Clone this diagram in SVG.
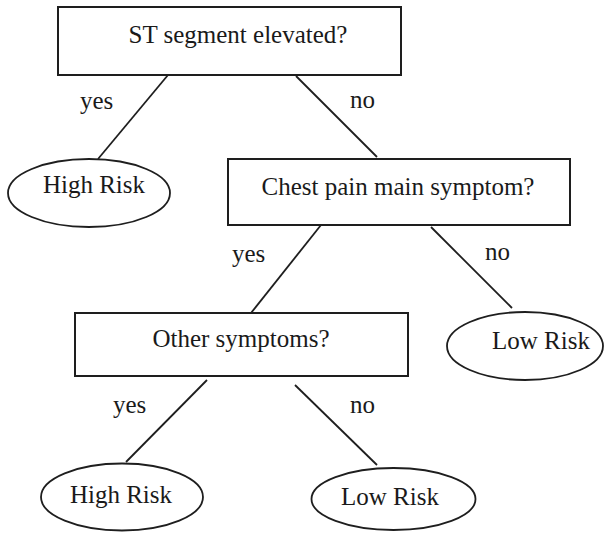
<svg xmlns="http://www.w3.org/2000/svg" width="605" height="535" viewBox="0 0 605 535">
<style>
.box{fill:#fff;stroke:#1e1e1e;stroke-width:2}
.leaf{fill:#fff;stroke:#1e1e1e;stroke-width:1.8}
.edge{stroke:#1e1e1e;stroke-width:1.8;fill:none}
text{font-family:"Liberation Serif","Times New Roman",serif;font-size:25px;fill:#1a1a1a}
.c{text-anchor:middle}
</style>
<rect width="605" height="535" fill="#fff"/>
<g id="connectors">
<line class="edge" x1="168" y1="75" x2="98" y2="159"/>
<line class="edge" x1="296" y1="76" x2="377" y2="157"/>
<line class="edge" x1="321" y1="225" x2="251" y2="313"/>
<line class="edge" x1="431" y1="227" x2="512" y2="308"/>
<line class="edge" x1="207" y1="380" x2="126" y2="462"/>
<line class="edge" x1="295" y1="385" x2="377" y2="465"/>
<text x="80" y="109">yes</text>
<text x="350" y="108">no</text>
<text x="232" y="262">yes</text>
<text x="485" y="260">no</text>
<text x="113" y="413">yes</text>
<text x="350" y="413">no</text>
</g>
<g id="q1">
<rect class="box" x="58" y="7" width="343" height="68"/>
<text class="c" x="238" y="43">ST segment elevated?</text>
</g>
<g id="high1">
<ellipse class="leaf" cx="89" cy="193" rx="81" ry="34"/>
<text class="c" x="94" y="193">High Risk</text>
</g>
<g id="q2">
<rect class="box" x="228" y="159" width="342" height="66"/>
<text class="c" x="398" y="195">Chest pain main symptom?</text>
</g>
<g id="low1">
<ellipse class="leaf" cx="525" cy="346" rx="78" ry="34"/>
<text class="c" x="541" y="349">Low Risk</text>
</g>
<g id="q3">
<rect class="box" x="75" y="313" width="333" height="63"/>
<text class="c" x="241" y="347">Other symptoms?</text>
</g>
<g id="high2">
<ellipse class="leaf" cx="122" cy="497" rx="81" ry="33.5"/>
<text class="c" x="121" y="503">High Risk</text>
</g>
<g id="low2">
<ellipse class="leaf" cx="393.5" cy="499" rx="82" ry="31"/>
<text class="c" x="390" y="505">Low Risk</text>
</g>
</svg>
